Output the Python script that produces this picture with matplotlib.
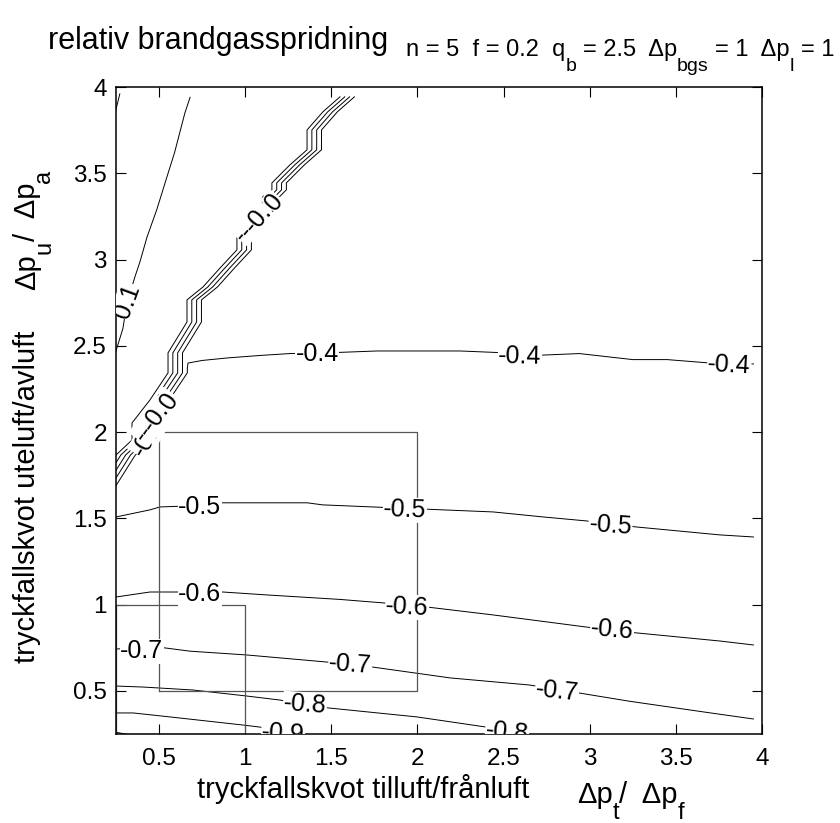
import matplotlib
matplotlib.use("Agg")
import matplotlib.pyplot as plt
import numpy as np

plt.rcParams['font.family'] = ['Liberation Sans', 'DejaVu Sans']

# ---------------- data ----------------
ticks = [0.5, 1, 1.5, 2, 2.5, 3, 3.5, 4]
tick_labels = ['0.5', '1', '1.5', '2', '2.5', '3', '3.5', '4']

# staircase bundle (levels 0, -0.1, -0.2, -0.3): base path + shift per level
bundle_x = [0.05, 0.25, 0.343, 0.343, 0.447, 0.552, 0.552, 0.662, 0.662, 0.755, 0.854,
            0.952, 0.952, 1.057, 1.155, 1.155, 1.26, 1.359, 1.359, 1.451, 1.55]
bundle_y = [1.55, 1.867, 1.954, 2.053, 2.186, 2.343, 2.459, 2.638, 2.766, 2.841, 2.951,
            3.056, 3.154, 3.305, 3.404, 3.444, 3.549, 3.636, 3.751, 3.856, 3.943]
bundle_shift = [0.0, 0.028, 0.056, 0.084]

m04_x = [0.162, 0.362, 0.455, 0.455, 0.559, 0.664, 0.664, 0.668, 0.75, 0.9, 1.1, 1.26, 1.5,
         1.765, 2.13, 2.247, 2.49, 2.70, 2.94, 3.25, 3.45, 3.70, 3.95]
m04_y = [1.55, 1.867, 1.954, 2.053, 2.186, 2.343, 2.37, 2.40, 2.415, 2.43, 2.445, 2.455, 2.46,
         2.47, 2.47, 2.47, 2.46, 2.445, 2.455, 2.42, 2.42, 2.40, 2.395]
m05_x = [0.25, 0.447, 0.505, 0.62, 0.854, 1.36, 1.45, 1.74, 2.15, 2.44, 2.73, 2.98, 3.27, 3.755, 3.95]
m05_y = [1.508, 1.549, 1.566, 1.57, 1.59, 1.59, 1.578, 1.566, 1.549, 1.537, 1.508, 1.485, 1.45, 1.404, 1.392]
m06_x = [0.25, 0.447, 0.61, 0.87, 1.126, 1.55, 1.80, 2.055, 2.44, 2.98, 3.23, 3.755, 3.95]
m06_y = [1.044, 1.073, 1.073, 1.073, 1.056, 1.03, 1.01, 0.986, 0.94, 0.87, 0.84, 0.789, 0.766]
m07_x = [0.25, 0.534, 0.68, 1.01, 1.475, 1.74, 2.19, 2.65, 2.90, 3.23, 3.66, 3.95]
m07_y = [0.743, 0.749, 0.73, 0.708, 0.667, 0.638, 0.575, 0.534, 0.494, 0.44, 0.378, 0.337]
m08_x = [0.25, 0.41, 0.697, 1.01, 1.20, 1.434, 1.997, 2.40, 2.60, 2.70]
m08_y = [0.528, 0.522, 0.505, 0.47, 0.447, 0.406, 0.349, 0.29, 0.25, 0.22]
m09_x = [0.25, 0.35, 0.563, 0.987, 1.086, 1.30, 1.40]
m09_y = [0.372, 0.372, 0.349, 0.302, 0.29, 0.25, 0.22]
m10_x = [0.25, 0.33, 0.40]
m10_y = [0.26, 0.245, 0.22]
p01_x = [0.24, 0.256, 0.29, 0.314, 0.36, 0.39, 0.43, 0.487, 0.546, 0.59, 0.65, 0.68]
p01_y = [2.44, 2.49, 2.60, 2.75, 2.90, 2.99, 3.13, 3.29, 3.48, 3.62, 3.85, 3.94]
p02_x = [0.245, 0.25, 0.272]
p02_y = [3.85, 3.87, 3.96]

# contour labels: text, x, y, rotation
label_text = ['-0.4', '-0.4', '-0.4', '-0.5', '-0.5', '-0.5', '-0.6', '-0.6', '-0.6',
              '-0.7', '-0.7', '-0.7', '-0.8', '-0.8', '-0.9', '0.1',
              '-0.4', '-0.3', '-0.2', '-0.1', '0',
              '-0.3', '-0.2', '-0.1', '0']
label_x = [1.417, 2.595, 3.81, 0.737, 1.927, 3.12, 0.737, 1.94, 3.13,
           0.40, 1.61, 2.81, 1.347, 2.52, 1.22, 0.314,
           0.44, 0.455, 0.48, 0.505, 0.56,
           1.04, 1.07, 1.10, 1.17]
label_y = [2.455, 2.44, 2.39, 1.566, 1.549, 1.456, 1.06, 0.986, 0.853,
           0.73, 0.655, 0.50, 0.42, 0.26, 0.255, 2.76,
           1.98, 2.06, 2.09, 2.12, 2.18,
           3.22, 3.24, 3.27, 3.33]
label_rot = [0, -1, -3, 0, -2, -4, 0, -3, -5,
             0, -4, -6, -4, -6, -4, 70,
             60, 55, 55, 55, 55,
             50, 50, 50, 50]

# rectangles: (x0, y0, x1, y1)
box_x0 = [0.5, 0.25]
box_y0 = [0.5, 0.25]
box_x1 = [2.0, 1.0]
box_y1 = [2.0, 1.0]

# ---------------- figure ----------------
W, H = 840, 823
fig = plt.figure(figsize=(W / 100, H / 100), dpi=100)
ax = fig.add_axes([116 / W, 1 - 734 / H, 646 / W, 647 / H])

lc = 'black'
lw = 0.7
for s in bundle_shift:
    ax.plot(np.array(bundle_x) + s, bundle_y, color=lc, lw=lw)
for xs, ys in [(m04_x, m04_y), (m05_x, m05_y), (m06_x, m06_y), (m07_x, m07_y),
               (m08_x, m08_y), (m09_x, m09_y), (m10_x, m10_y), (p01_x, p01_y), (p02_x, p02_y)]:
    ax.plot(xs, ys, color=lc, lw=lw)

for x0, y0, x1, y1 in zip(box_x0, box_y0, box_x1, box_y1):
    ax.plot([x0, x1, x1, x0, x0], [y0, y0, y1, y1, y0], color='#555555', lw=0.9)

for t, x, y, r in zip(label_text, label_x, label_y, label_rot):
    ax.text(x, y, t, fontsize=18, rotation=r, ha='center', va='center',
            rotation_mode='anchor', clip_on=True,
            bbox=dict(facecolor='white', edgecolor='none', pad=0.3))

ax.set_xlim(0.25, 4)
ax.set_ylim(0.25, 4)
ax.set_xticks(ticks)
ax.set_xticklabels(tick_labels)
ax.set_yticks(ticks)
ax.set_yticklabels(tick_labels)
ax.tick_params(direction='in', top=True, right=True, length=7, width=0.8, labelsize=17.5)
ax.tick_params(axis='x', pad=10)
ax.tick_params(axis='y', pad=6.5)
for sp in ax.spines.values():
    sp.set_linewidth(1.1)

renderer = fig.canvas.get_renderer()


def seq_text(x0, y0, pieces, vertical=False):
    """Draw text pieces one after another; pieces = (text, size, drop_px)."""
    pos = y0 if vertical else x0
    for s, size, drop in pieces:
        sw = 0.278 * size * 100 / 72
        lead = len(s) - len(s.lstrip(' '))
        trail = len(s) - len(s.rstrip(' '))
        core = s.strip(' ')
        if vertical:
            pos -= lead * sw
            t = fig.text((x0 + drop) / W, 1 - pos / H, core, fontsize=size, rotation=90,
                         rotation_mode='anchor', ha='left', va='baseline')
            pos -= t.get_window_extent(renderer).height + trail * sw
        else:
            pos += lead * sw
            t = fig.text(pos / W, 1 - (y0 + drop) / H, core, fontsize=size,
                         ha='left', va='baseline')
            pos += t.get_window_extent(renderer).width + trail * sw


fig.text(48 / W, 1 - 49 / H, 'relativ brandgasspridning', fontsize=22, va='baseline')
seq_text(406, 56, [('n = 5  f = 0.2  q', 17, 0), ('b', 14, 15), (' = 2.5  Δp', 17, 0),
                   ('bgs', 14, 15), (' = 1  Δp', 17, 0), ('l', 14, 15), (' = 1', 17, 0)])
seq_text(197, 798, [('tryckfallskvot tilluft/frånluft', 21, 0)])
seq_text(577, 803, [('Δp', 21, 0), ('t', 17, 16), ('/  Δp', 21, 0), ('f', 17, 16)])
seq_text(35, 663, [('tryckfallskvot uteluft/avluft', 21, 0)], vertical=True)
seq_text(35, 290, [('Δp', 21, 0), ('u', 17, 15), ('/  Δp', 21, 0), ('a', 17, 15)], vertical=True)

fig.savefig('out.png', dpi=100)
